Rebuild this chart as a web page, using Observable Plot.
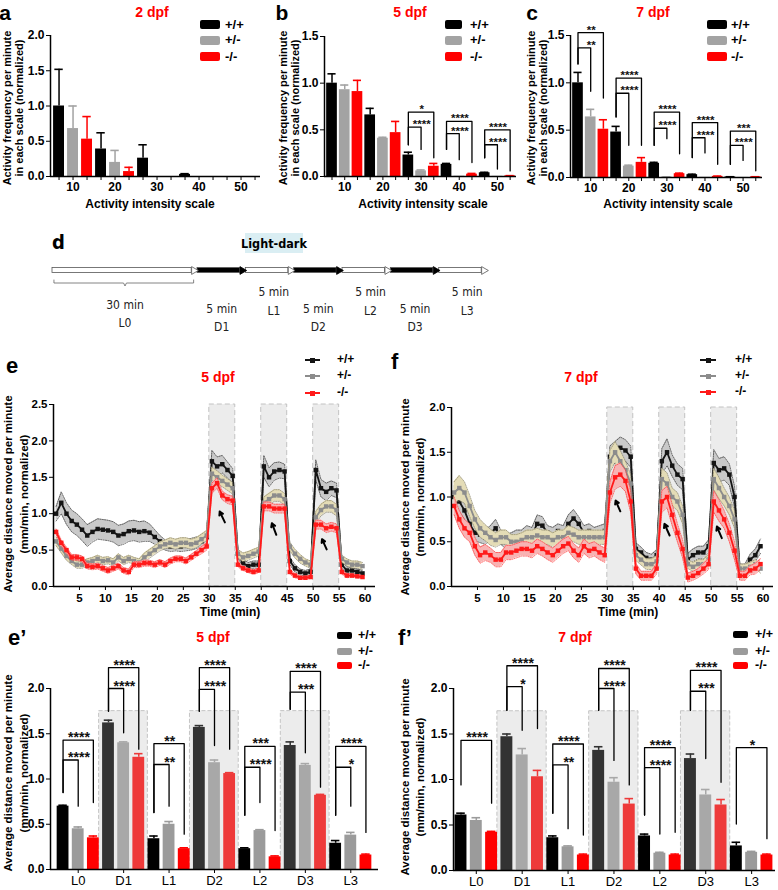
<!DOCTYPE html>
<html><head><meta charset="utf-8">
<script src="https://cdn.jsdelivr.net/npm/d3@7"></script>
<script src="https://cdn.jsdelivr.net/npm/@observablehq/plot@0.6"></script>
<style>
body{margin:0;background:#fff;}
#root{position:relative;width:778px;height:890px;overflow:hidden;font-family:"Liberation Sans",Arial,sans-serif;background:#fff;}
</style></head><body><div id="root"></div>
<script>
// ---------------- DATA ----------------
const genotypes = ["+/+", "+/-", "-/-"];
const intensityScale = ["10", "20", "30", "40", "50"];

// a: 2 dpf
const a2Wt = [1.0, 0.39, 0.26, 0.03, 0];
const a2Het = [0.68, 0.20, 0, 0, 0];
const a2Hom = [0.53, 0.07, 0, 0, 0];
const a2WtSem = [0.52, 0.23, 0.19, 0.01, 0];
const a2HetSem = [0.32, 0.17, 0, 0, 0];
const a2HomSem = [0.32, 0.06, 0, 0, 0];

// b: 5 dpf
const b5Wt = [1.0, 0.66, 0.23, 0.13, 0.04];
const b5Het = [0.93, 0.41, 0.06, 0.003, 0.002];
const b5Hom = [0.91, 0.47, 0.11, 0.025, 0.006];
const b5WtSem = [0.10, 0.07, 0.03, 0.01, 0.005];
const b5HetSem = [0.05, 0.01, 0.01, 0, 0];
const b5HomSem = [0.12, 0.12, 0.03, 0.008, 0.003];
const sigB = [
  ["30", "+/-", 0.53, "****", 0.34, 0.29],
  ["30", "-/-", 0.69, "*", 0.34, 0.20],
  ["40", "+/-", 0.46, "****", 0.29, 0.18],
  ["40", "-/-", 0.59, "****", 0.29, 0.15],
  ["50", "+/-", 0.34, "****", 0.20, 0.08],
  ["50", "-/-", 0.50, "****", 0.20, 0.06]
];

// c: 7 dpf
const c7Wt = [1.0, 0.48, 0.15, 0.03, 0.006];
const c7Het = [0.64, 0.12, 0.004, 0.002, 0.001];
const c7Hom = [0.51, 0.16, 0.04, 0.012, 0.006];
const c7WtSem = [0.11, 0.06, 0.01, 0.005, 0.002];
const c7HetSem = [0.08, 0.01, 0.002, 0, 0];
const c7HomSem = [0.10, 0.05, 0.006, 0.003, 0.002];
const sigC = [
  ["10", "+/-", 1.37, "**", 1.20, 0.91],
  ["10", "-/-", 1.53, "**", 1.20, 0.84],
  ["20", "+/-", 0.89, "****", 0.64, 0.34],
  ["20", "-/-", 1.05, "****", 0.64, 0.34],
  ["30", "+/-", 0.52, "****", 0.34, 0.41],
  ["30", "-/-", 0.69, "****", 0.34, 0.25],
  ["40", "+/-", 0.42, "****", 0.21, 0.26],
  ["40", "-/-", 0.58, "****", 0.21, 0.14],
  ["50", "+/-", 0.34, "****", 0.14, 0.18],
  ["50", "-/-", 0.49, "***", 0.14, 0.07]
];

// d: protocol
const phaseNames = ["L0", "D1", "L1", "D2", "L2", "D3", "L3"];
const phaseMinutes = [30, 5, 5, 5, 5, 5, 5];
const schematicSpan = [3, 1, 1, 1, 1, 1, 1];

// e: 5 dpf time course (per minute)
const e5Wt = [1.0,1.15,1.0,0.9,0.85,0.78,0.7,0.75,0.79,0.78,
  0.77,0.75,0.7,0.72,0.76,0.77,0.75,0.76,0.74,0.68,
  0.62,0.57,0.55,0.56,0.55,0.57,0.58,0.6,0.62,0.68,
  1.72,1.65,1.68,1.6,1.52, 0.45,0.32,0.28,0.3,0.3,
  1.65,1.5,1.58,1.6,1.58, 0.35,0.25,0.2,0.18,0.2,
  1.6,1.35,1.3,1.35,1.32, 0.3,0.22,0.22,0.2,0.18];
const e5WtSem = [0.1,0.15,0.15,0.15,0.15,0.15,0.15,0.14,0.14,0.14,
  0.14,0.14,0.14,0.14,0.14,0.14,0.14,0.14,0.12,0.1,
  0.08,0.07,0.07,0.07,0.07,0.08,0.08,0.08,0.08,0.09,
  0.15,0.13,0.12,0.11,0.1, 0.06,0.05,0.05,0.05,0.05,
  0.15,0.13,0.12,0.11,0.1, 0.05,0.05,0.04,0.04,0.04,
  0.14,0.12,0.12,0.1,0.1, 0.05,0.05,0.04,0.04,0.04];
const e5Het = [0.62,0.52,0.42,0.35,0.3,0.3,0.33,0.35,0.38,0.35,
  0.36,0.33,0.4,0.35,0.38,0.35,0.33,0.4,0.45,0.5,
  0.55,0.58,0.6,0.58,0.6,0.6,0.58,0.6,0.65,0.7,
  1.55,1.5,1.45,1.4,1.35, 0.45,0.4,0.42,0.45,0.48,
  1.15,1.2,1.25,1.25,1.2, 0.55,0.45,0.38,0.33,0.3,
  0.95,1.05,1.1,1.1,1.05, 0.38,0.33,0.3,0.3,0.28];
const e5HetSem = [0.06,0.06,0.06,0.05,0.05,0.05,0.05,0.05,0.05,0.05,
  0.05,0.05,0.05,0.05,0.05,0.05,0.05,0.06,0.06,0.06,
  0.06,0.06,0.07,0.07,0.07,0.07,0.07,0.07,0.07,0.07,
  0.09,0.09,0.08,0.08,0.08, 0.06,0.06,0.06,0.06,0.06,
  0.08,0.08,0.08,0.08,0.08, 0.06,0.06,0.06,0.05,0.05,
  0.08,0.08,0.08,0.08,0.08, 0.05,0.05,0.05,0.05,0.05];
const e5Hom = [0.75,0.6,0.5,0.4,0.4,0.38,0.28,0.27,0.28,0.25,
  0.22,0.25,0.28,0.22,0.2,0.3,0.3,0.32,0.32,0.3,
  0.33,0.3,0.35,0.38,0.38,0.35,0.4,0.45,0.5,0.55,
  1.35,1.42,1.25,1.2,1.18, 0.3,0.25,0.22,0.2,0.22,
  1.1,1.1,1.07,1.07,1.07, 0.2,0.15,0.12,0.12,0.13,
  0.85,0.85,0.8,0.82,0.8, 0.2,0.15,0.15,0.14,0.13];
const e5HomSem = [0.04,0.04,0.04,0.04,0.04,0.04,0.04,0.04,0.04,0.04,
  0.04,0.04,0.04,0.04,0.04,0.04,0.04,0.04,0.04,0.04,
  0.04,0.04,0.04,0.04,0.04,0.04,0.04,0.04,0.05,0.05,
  0.07,0.07,0.06,0.06,0.06, 0.03,0.03,0.03,0.03,0.03,
  0.06,0.06,0.06,0.06,0.06, 0.03,0.03,0.02,0.02,0.02,
  0.06,0.06,0.06,0.06,0.06, 0.03,0.03,0.02,0.02,0.02];
const arrowsE = [[33.0, 0.88, 32.0, 1.03], [42.9, 0.71, 42.05, 0.87], [52.6, 0.51, 51.7, 0.65]];

// f: 7 dpf time course
const f7Wt = [1.0,0.95,0.85,0.7,0.6,0.58,0.55,0.6,0.65,0.55,
  0.5,0.52,0.55,0.55,0.6,0.58,0.7,0.68,0.6,0.58,
  0.62,0.6,0.7,0.76,0.7,0.6,0.62,0.58,0.6,0.62,
  1.45,1.5,1.55,1.52,1.45, 0.42,0.38,0.32,0.3,0.35,
  1.4,1.5,1.35,1.25,1.2, 0.3,0.35,0.38,0.38,0.45,
  1.38,1.3,1.32,1.25,1.0, 0.2,0.2,0.3,0.35,0.45];
const f7WtSem = [0.12,0.12,0.1,0.1,0.09,0.09,0.08,0.08,0.1,0.08,
  0.08,0.08,0.08,0.08,0.08,0.08,0.1,0.1,0.08,0.08,
  0.08,0.08,0.1,0.1,0.08,0.08,0.08,0.08,0.08,0.08,
  0.12,0.12,0.12,0.12,0.12, 0.07,0.06,0.06,0.06,0.06,
  0.14,0.15,0.12,0.12,0.12, 0.07,0.07,0.07,0.07,0.07,
  0.15,0.13,0.13,0.12,0.12, 0.05,0.05,0.06,0.07,0.08];
const f7Het = [1.05,1.1,1.05,0.9,0.75,0.65,0.6,0.55,0.52,0.55,
  0.55,0.5,0.5,0.52,0.55,0.55,0.57,0.55,0.55,0.52,
  0.55,0.55,0.6,0.58,0.55,0.55,0.55,0.55,0.55,0.55,
  1.4,1.5,1.4,1.3,1.15, 0.35,0.3,0.25,0.25,0.28,
  1.2,1.15,1.0,0.95,0.8, 0.25,0.22,0.25,0.25,0.3,
  1.2,1.1,1.0,0.9,0.75, 0.2,0.2,0.22,0.25,0.2];
const f7HetSem = [0.12,0.14,0.12,0.12,0.1,0.1,0.09,0.09,0.08,0.08,
  0.08,0.08,0.08,0.08,0.08,0.08,0.08,0.08,0.08,0.08,
  0.08,0.08,0.08,0.08,0.08,0.08,0.08,0.08,0.08,0.08,
  0.12,0.12,0.12,0.1,0.1, 0.06,0.06,0.06,0.06,0.06,
  0.12,0.12,0.1,0.1,0.1, 0.05,0.05,0.05,0.05,0.06,
  0.12,0.12,0.1,0.1,0.1, 0.05,0.05,0.05,0.05,0.05];
const f7Hom = [0.9,0.75,0.65,0.6,0.45,0.35,0.38,0.35,0.3,0.3,
  0.38,0.38,0.4,0.42,0.42,0.4,0.45,0.42,0.38,0.35,
  0.4,0.45,0.48,0.4,0.35,0.45,0.4,0.42,0.38,0.35,
  1.05,1.22,1.25,1.18,0.95, 0.2,0.12,0.12,0.12,0.2,
  0.95,1.0,0.8,0.6,0.42, 0.1,0.12,0.15,0.2,0.25,
  0.95,0.85,0.75,0.6,0.4, 0.12,0.12,0.18,0.2,0.25];
const f7HomSem = [0.1,0.1,0.1,0.1,0.1,0.09,0.09,0.08,0.08,0.08,
  0.08,0.08,0.08,0.08,0.08,0.08,0.08,0.08,0.08,0.08,
  0.08,0.08,0.08,0.08,0.08,0.08,0.08,0.08,0.08,0.08,
  0.12,0.13,0.13,0.12,0.12, 0.06,0.05,0.05,0.05,0.06,
  0.12,0.12,0.12,0.1,0.1, 0.05,0.05,0.05,0.06,0.06,
  0.12,0.12,0.1,0.1,0.1, 0.05,0.05,0.05,0.06,0.06];
const arrowsF = [[32.5, 0.84, 31.6, 0.96], [42.0, 0.57, 41.0, 0.70], [52.05, 0.54, 51.1, 0.67]];

// e': 5 dpf per phase
const ep5Wt = [0.70, 1.62, 0.34, 1.57, 0.23, 1.37, 0.29];
const ep5Het = [0.45, 1.40, 0.50, 1.18, 0.43, 1.15, 0.38];
const ep5Hom = [0.35, 1.24, 0.23, 1.06, 0.14, 0.82, 0.16];
const ep5WtSem = [0.01, 0.03, 0.03, 0.02, 0.01, 0.04, 0.03];
const ep5HetSem = [0.02, 0.01, 0.03, 0.03, 0.01, 0.02, 0.03];
const ep5HomSem = [0.02, 0.04, 0.01, 0.01, 0.01, 0.01, 0.01];
const sigE5 = [
  ["L0", "+/-", 1.21, "****", 0.85, 0.70],
  ["L0", "-/-", 1.43, "****", 0.85, 0.74],
  ["D1", "+/-", 2.00, "****", 1.75, 1.51],
  ["D1", "-/-", 2.23, "****", 1.75, 1.33],
  ["L1", "+/-", 1.16, "**", 0.63, 0.70],
  ["L1", "-/-", 1.39, "**", 0.63, 0.39],
  ["D2", "+/-", 1.99, "****", 1.75, 1.37],
  ["D2", "-/-", 2.23, "****", 1.75, 1.33],
  ["L2", "+/-", 1.13, "****", 0.60, 0.74],
  ["L2", "-/-", 1.36, "***", 0.60, 0.43],
  ["D3", "+/-", 1.96, "***", 1.77, 1.29],
  ["D3", "-/-", 2.19, "****", 1.77, 0.91],
  ["L3", "+/-", 1.13, "*", 0.60, 0.70],
  ["L3", "-/-", 1.36, "****", 0.60, 0.41]
];

// f': 7 dpf per phase
const fp7Wt = [0.61, 1.47, 0.36, 1.32, 0.38, 1.23, 0.27];
const fp7Het = [0.55, 1.27, 0.26, 0.97, 0.19, 0.83, 0.20];
const fp7Hom = [0.42, 1.03, 0.17, 0.73, 0.17, 0.72, 0.17];
const fp7WtSem = [0.02, 0.03, 0.02, 0.04, 0.02, 0.05, 0.04];
const fp7HetSem = [0.03, 0.07, 0.01, 0.05, 0.01, 0.06, 0.01];
const fp7HomSem = [0.01, 0.07, 0.01, 0.06, 0.01, 0.06, 0.01];
const sigF7 = [
  ["L0", "-/-", 1.43, "****", 0.94, 0.74],
  ["D1", "+/-", 2.02, "*", 1.76, 1.54],
  ["D1", "-/-", 2.25, "****", 1.76, 1.56],
  ["L1", "+/-", 1.16, "**", 0.63, 0.46],
  ["L1", "-/-", 1.39, "****", 0.63, 0.39],
  ["D2", "+/-", 2.00, "****", 1.76, 1.21],
  ["D2", "-/-", 2.22, "****", 1.76, 0.94],
  ["L2", "+/-", 1.13, "****", 0.61, 0.40],
  ["L2", "-/-", 1.35, "****", 0.61, 0.42],
  ["D3", "+/-", 1.97, "***", 1.76, 1.23],
  ["D3", "-/-", 2.20, "****", 1.76, 0.97],
  ["L3", "-/-", 1.35, "*", 0.51, 0.35]
];

// ---------------- HELPERS ----------------
const root = document.getElementById("root");
const FONT = "Liberation Sans, Arial, sans-serif";
const NARROW = "'Liberation Sans Narrow', 'Arial Narrow', 'DejaVu Sans Condensed', 'Liberation Sans', sans-serif";

function place(svg, left, top) {
  svg.style.position = "absolute";
  svg.style.left = left + "px";
  svg.style.top = top + "px";
  svg.style.overflow = "visible";
  svg.style.background = "none";
  svg.style.maxWidth = "none";
  root.appendChild(svg);
  return svg;
}
function label(text, x, y, o = {}) {
  const d = document.createElement("div");
  d.textContent = text;
  const size = o.size || 12, weight = o.weight || "bold", color = o.color || "#000";
  d.style.cssText = `position:absolute;left:${x}px;top:${y}px;white-space:nowrap;line-height:1.15;font-size:${size}px;font-weight:${weight};color:${color};`;
  d.style.fontFamily = o.family || FONT;
  const tx = o.anchor === "start" ? "0" : o.anchor === "end" ? "-100%" : "-50%";
  d.style.transform = `translate(${tx},-50%)` + (o.rotate ? ` rotate(${o.rotate}deg)` : "");
  root.appendChild(d);
  return d;
}
function box(x, y, w, h, color, radius = 0) {
  const d = document.createElement("div");
  d.style.cssText = `position:absolute;left:${x}px;top:${y}px;width:${w}px;height:${h}px;background:${color};border-radius:${radius}px;`;
  root.appendChild(d);
}
function legendBoxes(x, ys, w, h, textX, colors, size) {
  genotypes.forEach((g, k) => {
    box(x, ys[k] - h / 2, w, h, colors[k], 2);
    label(g, textX, ys[k], {anchor: "start", size});
  });
}
function legendLines(x1, x2, ys, textX, colors) {
  genotypes.forEach((g, k) => {
    box(x1, ys[k] - 0.75, x2 - x1, 1.5, colors[k]);
    box((x1 + x2) / 2 - 2.5, ys[k] - 2.5, 5, 5, colors[k]);
    label(g, textX, ys[k], {anchor: "start", size: 12});
  });
}

function barRows(means, sems, groups, colorOf) {
  const rows = [];
  means.forEach((arr, k) => arr.forEach((v, g) => {
    rows.push({g, k, i: 3 * g + k, v, s: sems[k][g], name: groups[g], color: colorOf(groups[g], k)});
  }));
  return rows;
}

function barPanel(cfg) {
  const rows = barRows(cfg.means, cfg.sems, cfg.groups, cfg.colorOf);
  const marks = [];
  if (cfg.shadeGroups) {
    marks.push(Plot.rect(cfg.shadeGroups, {
      x1: g => 3 * cfg.groups.indexOf(g) - 0.62, x2: g => 3 * cfg.groups.indexOf(g) + 2.6,
      y1: 0, y2: cfg.shadeTop, fill: "#ececec", stroke: "#c4c4c4", strokeWidth: 1, strokeDasharray: "4,2"
    }));
  }
  marks.push(Plot.rect(rows, {x1: d => d.i - cfg.half, x2: d => d.i + cfg.half, y1: 0, y2: "v", fill: "color"}));
  const er = rows.filter(d => d.s > 0);
  marks.push(Plot.ruleX(er, {x: "i", y1: "v", y2: d => d.v + d.s, stroke: "color", strokeWidth: 1.5}));
  marks.push(Plot.ruleY(er, {y: d => d.v + d.s, x1: d => d.i - cfg.cap, x2: d => d.i + cfg.cap, stroke: "color", strokeWidth: 1.6}));
  marks.push(Plot.ruleY([0], {stroke: "#000", strokeWidth: 1.5}));
  marks.push(Plot.ruleX([cfg.xDomain[0]], {y1: 0, y2: cfg.yMax, stroke: "#000", strokeWidth: 1.5}));
  if (cfg.sig) {
    const pts = [];
    cfg.sig.forEach((s, id) => {
      const g = cfg.groups.indexOf(s[0]);
      const iL = 3 * g, iR = 3 * g + genotypes.indexOf(s[1]);
      pts.push({id, x: iL, y: s[4]}, {id, x: iL, y: s[2]}, {id, x: iR, y: s[2]}, {id, x: iR, y: s[5]});
    });
    marks.push(Plot.line(pts, {x: "x", y: "y", z: "id", stroke: "#000", strokeWidth: 1.3}));
    marks.push(Plot.text(cfg.sig, {
      x: s => 3 * cfg.groups.indexOf(s[0]) + 1.05, y: s => s[2], text: s => s[3],
      lineAnchor: "bottom", dy: cfg.starDy, fontSize: cfg.starSize, fontWeight: "bold", fill: "#111"
    }));
  }
  const xTicks = cfg.allTicks ? d3.range(cfg.groups.length * 3) : cfg.groups.map((_, g) => 3 * g + 1);
  const svg = Plot.plot({
    width: cfg.width, height: cfg.height,
    marginLeft: cfg.ml, marginRight: cfg.mr, marginTop: cfg.mt, marginBottom: cfg.mb,
    x: {domain: cfg.xDomain, ticks: xTicks, tickSize: 4, tickPadding: 2, label: null,
        tickFormat: v => (v % 3 === 1 ? cfg.groups[(v - 1) / 3] : "")},
    y: {domain: [0, cfg.yMax], ticks: cfg.yTicks, tickFormat: d3.format(".1f"), tickSize: 4, tickPadding: 2, label: null},
    color: {type: "identity"},
    style: {fontFamily: FONT, fontSize: cfg.tickFont + "px", fontWeight: "bold", color: "#000", background: "none", overflow: "visible"},
    marks
  });
  if (cfg.xNormal) {
    svg.querySelectorAll('[aria-label="x-axis tick label"], [aria-label="x-axis"] text').forEach(n => {
      n.setAttribute("font-weight", "normal"); n.style.fontWeight = "normal"; n.setAttribute("font-size", "13");
    });
  }
  return place(svg, cfg.left, cfg.top);
}

// phase timing (minutes)
const phaseStart = phaseMinutes.map((m, i) => d3.sum(phaseMinutes.slice(0, i)));
const darkRows = phaseNames.map((n, i) => ({name: n, start: phaseStart[i], end: phaseStart[i] + phaseMinutes[i]}))
  .filter(d => d.name[0] === "D");
const minutes = d3.range(60).map(i => i + 0.5);

function linePanel(cfg) {
  const lineCol = ["#141414", "#8c8c8c", "#ff1a1a"];
  const bandFill = ["#c9c9c9", "#e4dcb6", "#f8b3b3"];
  const bandEdge = ["#333", "#8a8468", "#ff3b3b"];
  const marks = [
    Plot.rect(darkRows, {x1: "start", x2: "end", y1: 0, y2: cfg.yMax, fill: "#ececec", stroke: "#c2c2c2", strokeDasharray: "5,3"})
  ];
  cfg.series.forEach((vals, k) => {
    const d = vals.map((v, j) => ({t: minutes[j], v, s: cfg.sems[k][j]}));
    marks.push(Plot.areaY(d, {x: "t", y1: r => r.v - r.s, y2: r => r.v + r.s, fill: bandFill[k]}));
    marks.push(Plot.line(d, {x: "t", y: r => r.v + r.s, stroke: bandEdge[k], strokeWidth: 0.7, strokeDasharray: "1.2,1.2"}));
    marks.push(Plot.line(d, {x: "t", y: r => r.v - r.s, stroke: bandEdge[k], strokeWidth: 0.7, strokeDasharray: "1.2,1.2"}));
    marks.push(Plot.line(d, {x: "t", y: "v", stroke: lineCol[k], strokeWidth: 1.8}));
    marks.push(Plot.dot(d, {x: "t", y: "v", symbol: "square", r: 2.5, fill: lineCol[k]}));
  });
  marks.push(Plot.arrow(cfg.arrows, {x1: a => a[0], y1: a => a[1], x2: a => a[2], y2: a => a[3], stroke: "#000", strokeWidth: 2, headLength: 5}));
  marks.push(Plot.ruleY([0], {stroke: "#000", strokeWidth: 1.5}));
  marks.push(Plot.ruleX([0], {y1: 0, y2: cfg.yMax, stroke: "#000", strokeWidth: 1.5}));
  const svg = Plot.plot({
    width: cfg.width, height: cfg.height,
    marginLeft: cfg.ml, marginRight: cfg.mr, marginTop: cfg.mt, marginBottom: cfg.mb,
    x: {domain: [0, 62], ticks: d3.range(5, 61, 5), tickSize: 4, tickPadding: 3, label: null},
    y: {domain: [0, cfg.yMax], ticks: d3.range(0, cfg.yMax + 0.01, 0.5), tickFormat: d3.format(".1f"), tickSize: 4, tickPadding: 2, label: null},
    style: {fontFamily: FONT, fontSize: "11.5px", fontWeight: "bold", color: "#000", background: "none", overflow: "visible"},
    marks
  });
  return place(svg, cfg.left, cfg.top);
}

// ---------------- TOP ROW: a, b, c ----------------
const topColor = (g, k) => ["#000000", "#a3a3a3", "#ff0000"][k];
barPanel({
  groups: intensityScale, means: [a2Wt, a2Het, a2Hom], sems: [a2WtSem, a2HetSem, a2HomSem], colorOf: topColor,
  left: 0, top: 0, width: 262, height: 215, ml: 50, mr: 2, mt: 35, mb: 39,
  xDomain: [-0.61, 14.39], yMax: 2.0, yTicks: [0, 0.5, 1, 1.5, 2], half: 0.39, cap: 0.3, tickFont: 12, allTicks: true
});
barPanel({
  groups: intensityScale, means: [b5Wt, b5Het, b5Hom], sems: [b5WtSem, b5HetSem, b5HomSem], colorOf: topColor,
  left: 260, top: 0, width: 258, height: 215, ml: 64, mr: 2, mt: 36, mb: 39,
  xDomain: [-0.59, 14.5], yMax: 1.5, yTicks: [0, 0.5, 1, 1.5], half: 0.42, cap: 0.32, tickFont: 12, allTicks: true,
  sig: sigB, starSize: 11.5, starDy: 1
});
barPanel({
  groups: intensityScale, means: [c7Wt, c7Het, c7Hom], sems: [c7WtSem, c7HetSem, c7HomSem], colorOf: topColor,
  left: 518, top: 0, width: 260, height: 215, ml: 52, mr: 16, mt: 35, mb: 38,
  xDomain: [-0.59, 14.53], yMax: 1.5, yTicks: [0, 0.5, 1, 1.5], half: 0.42, cap: 0.32, tickFont: 12, allTicks: true,
  sig: sigC, starSize: 11.5, starDy: 1
});
label("a", 5, 13, {size: 21});
label("b", 282, 13, {size: 21});
label("c", 532, 13, {size: 21});
label("2 dpf", 152, 12, {size: 14, color: "#ff0000"});
label("5 dpf", 410, 12, {size: 14, color: "#ff0000"});
label("7 dpf", 653, 12, {size: 14, color: "#ff0000"});
legendBoxes(200, [24.5, 40, 56.5], 20, 9, 225, ["#000", "#a3a3a3", "#ff0000"], 13);
legendBoxes(445, [24.5, 40, 56.5], 17, 9, 470, ["#000", "#a3a3a3", "#ff0000"], 13);
legendBoxes(707, [24.5, 40, 56.5], 20, 9, 731, ["#000", "#a3a3a3", "#ff0000"], 13);
[[7, 108], [283, 108], [531, 108]].forEach(([x, y]) => {
  label("Activity frequency per minute", x, y, {size: 11, rotate: -90});
  label("in each scale (normalized)", x + 12, y, {size: 11, rotate: -90});
});
label("Activity intensity scale", 150, 205, {size: 12});
label("Activity intensity scale", 423, 205, {size: 12});
label("Activity intensity scale", 668, 205, {size: 12});

// ---------------- d: protocol schematic ----------------
{
  let acc = 0;
  const seg = phaseNames.map((n, i) => {
    const r = {name: n, min: phaseMinutes[i], x1: acc, x2: acc + schematicSpan[i], dark: n[0] === "D"};
    acc += schematicSpan[i];
    return r;
  });
  const rowOf = d => d.name === "L0" ? [90, 108] : d.dark ? [94, 112] : [77, 96];
  const brace = [[0.03, 64.5], [0.03, 67.5], [1.47, 67.5], [1.5, 70.5], [1.53, 67.5], [2.92, 67.5], [2.92, 64.5]];
  const svg = Plot.plot({
    width: 778, height: 130, marginTop: 0, marginBottom: 0, marginLeft: 52, marginRight: 291,
    x: {domain: [0, 9], axis: null}, y: {domain: [0, 130], range: [0, 130], axis: null},
    style: {background: "none", overflow: "visible"},
    marks: [
      Plot.rect(seg, {x1: "x1", x2: d => d.x2 - 0.12, y1: 52.6, y2: 57.4, fill: d => d.dark ? "#000" : "#fff", stroke: "#555", strokeWidth: 0.8}),
      Plot.dot(seg, {x: d => d.x2 - 0.075, y: 55, symbol: "triangle", rotate: 90, r: 2.9, fill: d => d.dark ? "#000" : "#fff", stroke: d => d.dark ? "#000" : "#555", strokeWidth: 0.8}),
      Plot.line(brace, {x: p => p[0], y: p => p[1], stroke: "#666", strokeWidth: 0.8}),
      Plot.text(seg, {x: d => (d.x1 + d.x2) / 2 + (d.dark || d.name === "L0" ? 0 : 0.08), y: d => rowOf(d)[0], text: d => `${d.min} min`, fontFamily: NARROW, fontSize: 12, fill: "#222"}),
      Plot.text(seg, {x: d => (d.x1 + d.x2) / 2 + (d.dark || d.name === "L0" ? 0 : 0.08), y: d => rowOf(d)[1], text: "name", fontFamily: NARROW, fontSize: 12, fill: "#222"})
    ]
  });
  place(svg, 0, 215);
  label("d", 52, 242, {size: 20, family: NARROW, anchor: "start"});
  box(245, 233, 58, 20, "#daeef3");
  label("Light-dark", 274, 243.5, {size: 12.5, family: NARROW});
}

// ---------------- e, f: time courses ----------------
linePanel({series: [e5Wt, e5Het, e5Hom], sems: [e5WtSem, e5HetSem, e5HomSem], arrows: arrowsE, yMax: 2.5,
  left: 0, top: 345, width: 385, height: 271, ml: 53, mr: 10, mt: 59, mb: 30});
linePanel({series: [f7Wt, f7Het, f7Hom], sems: [f7WtSem, f7HetSem, f7HomSem], arrows: arrowsF, yMax: 2.0,
  left: 388, top: 345, width: 390, height: 271, ml: 63, mr: 5, mt: 62, mb: 30});
label("e", 6, 366, {size: 22, anchor: "start"});
label("f", 391, 362, {size: 22, anchor: "start"});
label("5 dpf", 218, 377, {size: 14, color: "#ff0000"});
label("7 dpf", 581, 377, {size: 14, color: "#ff0000"});
legendLines(305, 320, [360, 376, 393], 337, ["#141414", "#8c8c8c", "#ff1a1a"]);
legendLines(700, 716, [360, 376, 392], 735, ["#141414", "#8c8c8c", "#ff1a1a"]);
label("Average distance moved per minute", 9, 494, {size: 11.5, rotate: -90});
label("(mm/min, normalized)", 25, 494, {size: 11.5, rotate: -90});
label("Average distance moved per minute", 406, 497, {size: 11.5, rotate: -90});
label("(mm/min, normalized)", 421, 497, {size: 11.5, rotate: -90});
label("Time (min)", 230, 613, {size: 12});
label("Time (min)", 628, 613, {size: 12});

// ---------------- e', f': per-phase bars ----------------
const phaseColor = (name, k) => name[0] === "D" ? ["#333333", "#a8a8a8", "#ee3a3a"][k] : ["#000000", "#9b9b9b", "#ff0000"][k];
const darkPhases = phaseNames.filter(n => n[0] === "D");
barPanel({
  groups: phaseNames, means: [ep5Wt, ep5Het, ep5Hom], sems: [ep5WtSem, ep5HetSem, ep5HomSem], colorOf: phaseColor,
  left: 0, top: 585, width: 380, height: 305, ml: 50, mr: 2, mt: 103, mb: 21,
  xDomain: [-0.83, 20.83], yMax: 2.0, yTicks: [0, 0.5, 1, 1.5, 2], half: 0.39, cap: 0.28, tickFont: 12,
  shadeGroups: darkPhases, shadeTop: 1.75, sig: sigE5, starSize: 14, starDy: 2, xNormal: true
});
barPanel({
  groups: phaseNames, means: [fp7Wt, fp7Het, fp7Hom], sems: [fp7WtSem, fp7HetSem, fp7HomSem], colorOf: phaseColor,
  left: 388, top: 585, width: 390, height: 305, ml: 65, mr: 3, mt: 103, mb: 20,
  xDomain: [-0.49, 20.56], yMax: 2.0, yTicks: [0, 0.5, 1, 1.5, 2], half: 0.39, cap: 0.28, tickFont: 12,
  shadeGroups: darkPhases, shadeTop: 1.75, sig: sigF7, starSize: 14, starDy: 2, xNormal: true
});
label("e\u2019", 8, 638, {size: 22, anchor: "start"});
label("f\u2019", 398, 638, {size: 22, anchor: "start"});
label("5 dpf", 213, 637, {size: 14, color: "#ff0000"});
label("7 dpf", 575, 637, {size: 14, color: "#ff0000"});
legendBoxes(337, [635, 651, 665], 15, 7, 358, ["#000", "#9b9b9b", "#ff0000"], 12.5);
legendBoxes(733, [634, 651, 665], 15, 7, 755, ["#000", "#9b9b9b", "#ff0000"], 12.5);
label("Average distance moved per minute", 9, 773, {size: 11.5, rotate: -90});
label("(mm/min, normalized)", 25, 773, {size: 11.5, rotate: -90});
label("Average distance moved per minute", 406, 777, {size: 11.5, rotate: -90});
label("(mm/min, normalized)", 421, 777, {size: 11.5, rotate: -90});
</script></body></html>
